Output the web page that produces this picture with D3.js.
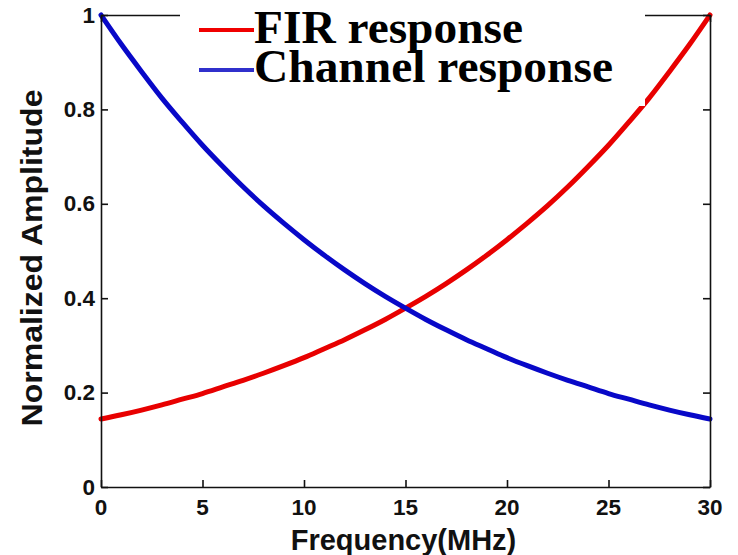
<!DOCTYPE html>
<html>
<head>
<meta charset="utf-8">
<script src="https://cdn.jsdelivr.net/npm/d3@7"></script>
<style>
  html, body { margin: 0; padding: 0; background: #fff; }
  svg { display: block; }
</style>
</head>
<body>
<svg id="chart" width="738" height="555"></svg>
<script>
// Frequency samples (MHz)
const frequency = [0,1,2,3,4,5,6,7,8,9,10,11,12,13,14,15,16,17,18,19,20,21,22,23,24,25,26,27,28,29,30];
// Normalized amplitude of the FIR equalizer response
const firResponse = [0.144,0.153,0.163,0.174,0.186,0.198,0.212,0.226,0.241,0.257,0.274,0.293,0.312,0.333,0.355,0.379,0.404,0.431,0.460,0.491,0.524,0.559,0.596,0.636,0.679,0.724,0.773,0.824,0.880,0.938,1.000];
// Normalized amplitude of the channel response
const channelResponse = [1.000,0.938,0.880,0.824,0.773,0.724,0.679,0.636,0.596,0.559,0.524,0.491,0.460,0.431,0.404,0.379,0.355,0.333,0.312,0.293,0.274,0.257,0.241,0.226,0.212,0.198,0.186,0.174,0.163,0.153,0.144];
const xTicks = [0,5,10,15,20,25,30];
const xTickLabels = ["0","5","10","15","20","25","30"];
const yTicks = [0,0.2,0.4,0.6,0.8,1];
const yTickLabels = ["0","0.2","0.4","0.6","0.8","1"];
const seriesNames = ["FIR response","Channel response"];
const seriesColors = ["#e80000","#0808c8"];
const legendColors = ["#f00000","#3030cc"];

const svg = d3.select("#chart");
const plotLeft = 101, plotRight = 710, plotTop = 15, plotBottom = 487;

const x = d3.scaleLinear().domain([0,30]).range([plotLeft,plotRight]);
const y = d3.scaleLinear().domain([0,1]).range([plotBottom,plotTop]);

const tickFont = "'Liberation Sans', Arial, sans-serif";

// Curves
const line = d3.line().x((d,i) => x(frequency[i])).y(d => y(d)).curve(d3.curveMonotoneX);
[firResponse, channelResponse].forEach((vals, k) => {
  svg.append("path")
    .attr("d", line(vals))
    .attr("fill", "none")
    .attr("stroke", seriesColors[k])
    .attr("stroke-width", 5)
    .attr("stroke-linejoin", "round")
    .attr("stroke-linecap", "round");
});

// Axes box with inward ticks
const axisColor = "#111";
const bottomAxis = d3.axisBottom(x).tickValues(xTicks).tickSizeInner(-7).tickSizeOuter(0).tickFormat("");
const topAxis = d3.axisTop(x).tickValues(xTicks).tickSizeInner(-7).tickSizeOuter(0).tickFormat("");
const leftAxis = d3.axisLeft(y).tickValues(yTicks).tickSizeInner(-7).tickSizeOuter(0).tickFormat("");
const rightAxis = d3.axisRight(y).tickValues(yTicks).tickSizeInner(-7).tickSizeOuter(0).tickFormat("");

function styleAxis(g) {
  g.selectAll("path").attr("stroke", axisColor).attr("stroke-width", 1.6);
  g.selectAll("line").attr("stroke", axisColor).attr("stroke-width", 1.6);
}
svg.append("g").attr("transform", `translate(0,${plotBottom})`).call(bottomAxis).call(styleAxis);
svg.append("g").attr("transform", `translate(0,${plotTop})`).call(topAxis).call(styleAxis);
svg.append("g").attr("transform", `translate(${plotLeft},0)`).call(leftAxis).call(styleAxis);
svg.append("g").attr("transform", `translate(${plotRight},0)`).call(rightAxis).call(styleAxis);

// Tick labels
svg.append("g").selectAll("text").data(xTicks).join("text")
  .attr("x", d => x(d))
  .attr("y", plotBottom + 28)
  .attr("text-anchor", "middle")
  .attr("font-family", tickFont)
  .attr("font-weight", "bold")
  .attr("font-size", 22.5)
  .attr("fill", "#111")
  .text((d,i) => xTickLabels[i]);

svg.append("g").selectAll("text").data(yTicks).join("text")
  .attr("x", plotLeft - 6)
  .attr("y", d => y(d) + 7.5)
  .attr("text-anchor", "end")
  .attr("font-family", tickFont)
  .attr("font-weight", "bold")
  .attr("font-size", 22.5)
  .attr("fill", "#111")
  .text((d,i) => yTickLabels[i]);

// Axis titles
svg.append("text")
  .attr("x", 403.5)
  .attr("y", 550)
  .attr("text-anchor", "middle")
  .attr("font-family", tickFont)
  .attr("font-weight", "bold")
  .attr("font-size", 29)
  .attr("fill", "#111")
  .text("Frequency(MHz)");

svg.append("text")
  .attr("transform", "translate(42,258) rotate(-90)")
  .attr("text-anchor", "middle")
  .attr("font-family", tickFont)
  .attr("font-weight", "bold")
  .attr("font-size", 30)
  .attr("textLength", 337)
  .attr("lengthAdjust", "spacingAndGlyphs")
  .attr("fill", "#111")
  .text("Normalized Amplitude");

// Legend panel
svg.append("rect")
  .attr("x", 180).attr("y", 0)
  .attr("width", 465).attr("height", 106)
  .attr("fill", "#fff");

const legendRows = [30, 70];
const legendBaselines = [43, 82];
const legendWidths = [269, 359];
seriesNames.forEach((name, k) => {
  svg.append("line")
    .attr("x1", 199).attr("x2", 254)
    .attr("y1", legendRows[k]).attr("y2", legendRows[k])
    .attr("stroke", legendColors[k])
    .attr("stroke-width", 4);
  svg.append("text")
    .attr("x", 254)
    .attr("y", legendBaselines[k])
    .attr("font-family", "'Liberation Serif', 'Times New Roman', serif")
    .attr("font-weight", "bold")
    .attr("font-size", 47)
    .attr("textLength", legendWidths[k])
    .attr("lengthAdjust", "spacingAndGlyphs")
    .attr("fill", "#000")
    .text(name);
});
</script>
</body>
</html>
